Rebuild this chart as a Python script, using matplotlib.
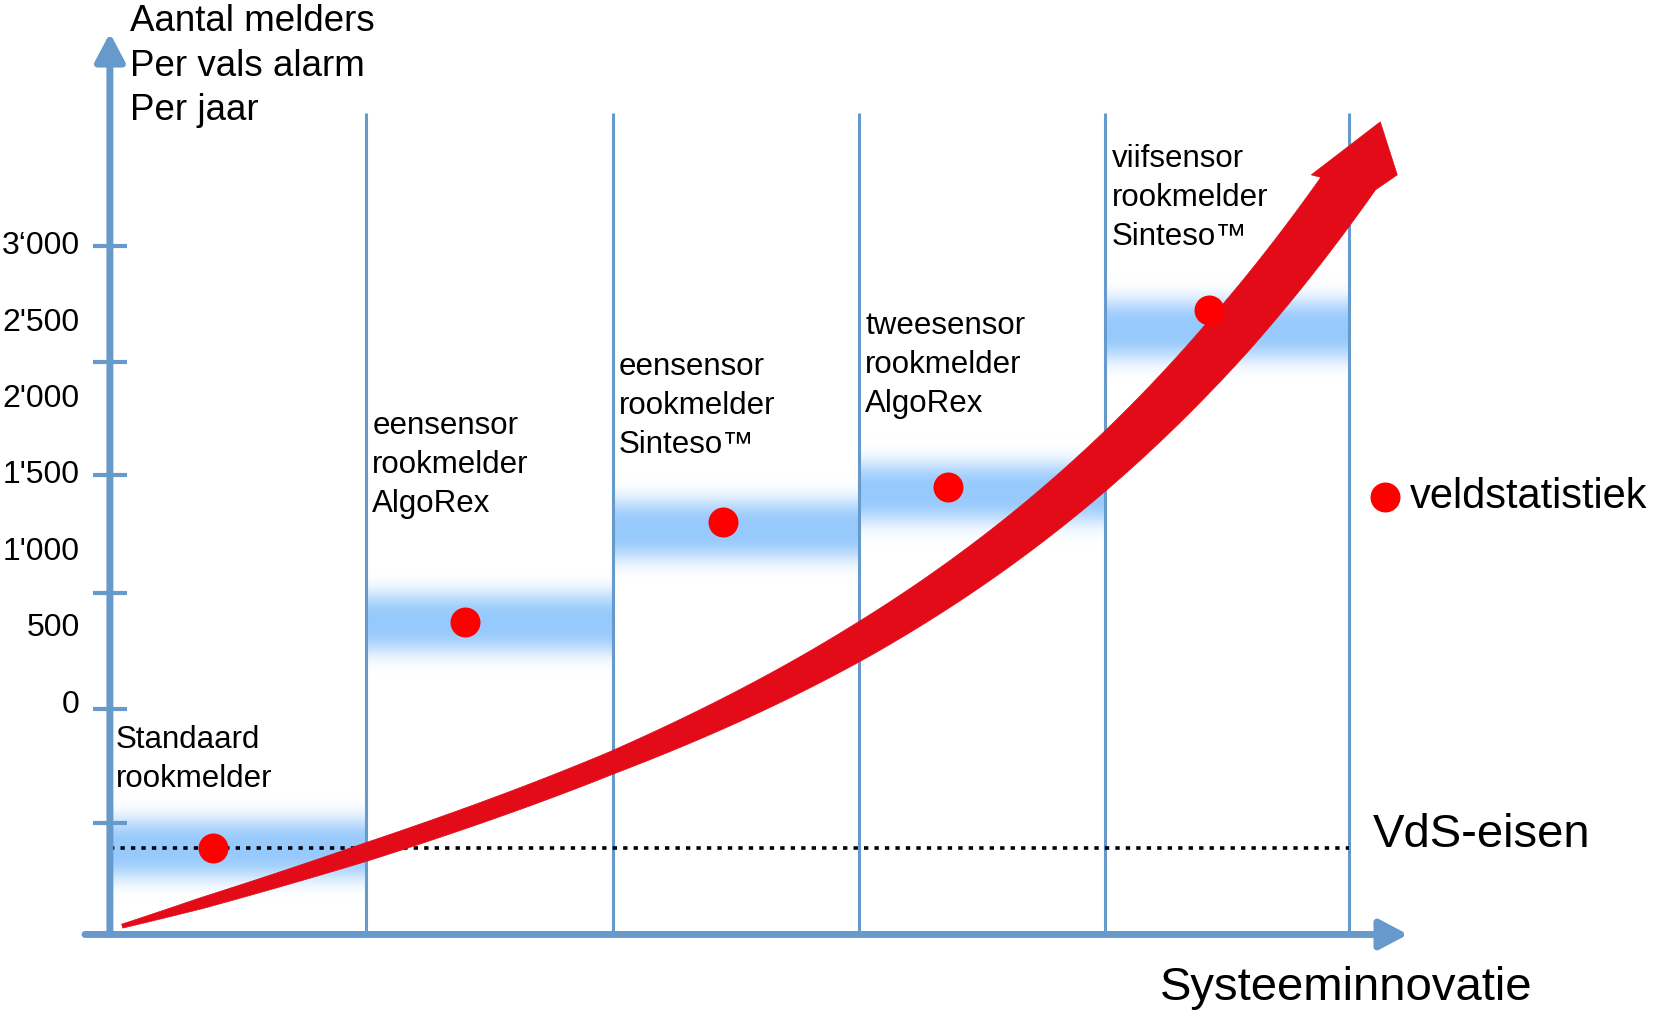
import numpy as np
import matplotlib.pyplot as plt
from matplotlib.patches import Polygon, FancyArrowPatch

plt.rcParams['font.family'] = ['Liberation Sans', 'DejaVu Sans']

# scale labels (as printed) and where they sit on the value scale
tick_labels = ['3\u2018000', "2'500", "2'000", "1'500", "1'000", '500', '0']
tick_label_vals = [3000, 2500, 2000, 1500, 1000, 500, 0]
tick_mark_vals = [3000, 2240, 1500, 735, -25, -770]

# columns = generations of detectors
col_edges = [0, 1.04, 2.04, 3.04, 4.04, 5.03]
col_names = ['Standaard\nrookmelder',
             'eensensor\nrookmelder\nAlgoRex',
             'eensensor\nrookmelder\nSinteso\u2122',
             'tweesensor\nrookmelder\nAlgoRex',
             'viifsensor\nrookmelder\nSinteso\u2122']
name_y = [-355, 1570, 1954, 2222, 3314]
band_y = [-941, 536, 1144, 1386, 2451]

# field statistics (red dots)
field_x = [0.42, 1.44, 2.49, 3.40, 4.46]
field_y = [-935, 542, 1196, 1425, 2582]

vds_level = -935
x_axis_level = -1500

# innovation arrow centreline and its width (px)
arrow_x = [0.05, 0.37, 1.04, 2.04, 3.04, 4.05, 4.55, 5.05]
arrow_y = [-1458, -1275, -967, -392, 438, 1582, 2444, 3464]
arrow_w = [4, 11, 18, 22, 35, 45, 50, 52]

axis_blue = '#6699CC'
band_rgb = (0.59, 0.79, 0.99)

fig = plt.figure(figsize=(16.65, 10.18), dpi=100)
ax = fig.add_axes([0, 0, 1, 1])
ax.set_xlim(-0.446, 6.311)
ax.set_ylim(-2046, 4608)
ax.axis('off')

# blue blurred bands per column
s = 200
yy = np.linspace(-400, 400, 300)
alpha = np.exp(-np.abs(yy / s) ** 3)
for i, c in enumerate(band_y):
    img = np.zeros((len(yy), 2, 4))
    img[..., 0], img[..., 1], img[..., 2] = band_rgb
    img[..., 3] = alpha[:, None]
    ax.imshow(img, extent=(col_edges[i], col_edges[i + 1], c - 400, c + 400),
              aspect='auto', interpolation='bilinear', origin='lower', zorder=1)

# column separators
ax.vlines(col_edges[1:], x_axis_level, 3870, color=axis_blue, lw=2.2, zorder=2)

# dotted VdS requirement line
ax.plot([col_edges[0], col_edges[-1]], [vds_level, vds_level], color='black',
        lw=2.6, linestyle=(0, (1.2, 1.7)), zorder=3)

# axes with arrow heads
ax.add_patch(FancyArrowPatch((-0.101, x_axis_level), (5.268, x_axis_level),
                             arrowstyle='-|>,head_length=17,head_width=9',
                             mutation_scale=1, color=axis_blue, lw=5,
                             shrinkA=0, shrinkB=0, zorder=3))
ax.add_patch(FancyArrowPatch((0, x_axis_level), (0, 4392),
                             arrowstyle='-|>,head_length=17,head_width=9',
                             mutation_scale=1, color=axis_blue, lw=5,
                             shrinkA=0, shrinkB=0, zorder=3))
ax.hlines(tick_mark_vals, -0.069, 0.069, color=axis_blue, lw=3, zorder=3)

for v, t in zip(tick_label_vals, tick_labels):
    ax.text(-0.122, v, t, ha='right', va='center', fontsize=23)

ax.text(0.081, 4175, 'Aantal melders\nPer vals alarm\nPer jaar', ha='left',
        va='center', fontsize=26.5, linespacing=1.36)

# red curved arrow, built in pixel space then put back into data units
pix = ax.transData.transform(np.column_stack([arrow_x, arrow_y]))
coef = np.polyfit(pix[:, 0], pix[:, 1], 4)
cx = np.linspace(pix[0, 0], pix[-1, 0], 400)
cen = np.column_stack([cx, np.polyval(coef, cx)])
w = np.interp(cx, pix[:, 0], arrow_w)
tan = np.gradient(cen, axis=0)
tan /= np.linalg.norm(tan, axis=1)[:, None]
nrm = np.column_stack([-tan[:, 1], tan[:, 0]])
left = cen + nrm * w[:, None] / 2
right = cen - nrm * w[:, None] / 2
end = cen[-1]
left = left[left[:, 1] <= end[1]]
right = right[right[:, 1] <= end[1]]
head = np.array([end + [-43, 0], end + [26, 53], end + [43, 0]])
outline = np.vstack([left, head, right[::-1]])
ax.add_patch(Polygon(ax.transData.inverted().transform(outline), closed=True,
                     facecolor='#E20B17', edgecolor='#E20B17', lw=0.5, zorder=4))

ax.scatter(field_x, field_y, s=466, color='#FF0000', linewidths=0, zorder=6)

for i, name in enumerate(col_names):
    ax.text(col_edges[i] + 0.025, name_y[i], name, ha='left', va='center',
            fontsize=22.5, linespacing=1.4, zorder=7)

# legend and annotations
ax.scatter([5.175], [1359], s=466, color='#FF0000', linewidths=0, zorder=6)
ax.text(5.276, 1359, 'veldstatistiek', ha='left', va='center', fontsize=30)
ax.text(5.126, -850, 'VdS-eisen', ha='left', va='center', fontsize=34)
ax.text(4.261, -1850, 'Systeeminnovatie', ha='left', va='center', fontsize=34)

fig.savefig('out.png', dpi=100)
